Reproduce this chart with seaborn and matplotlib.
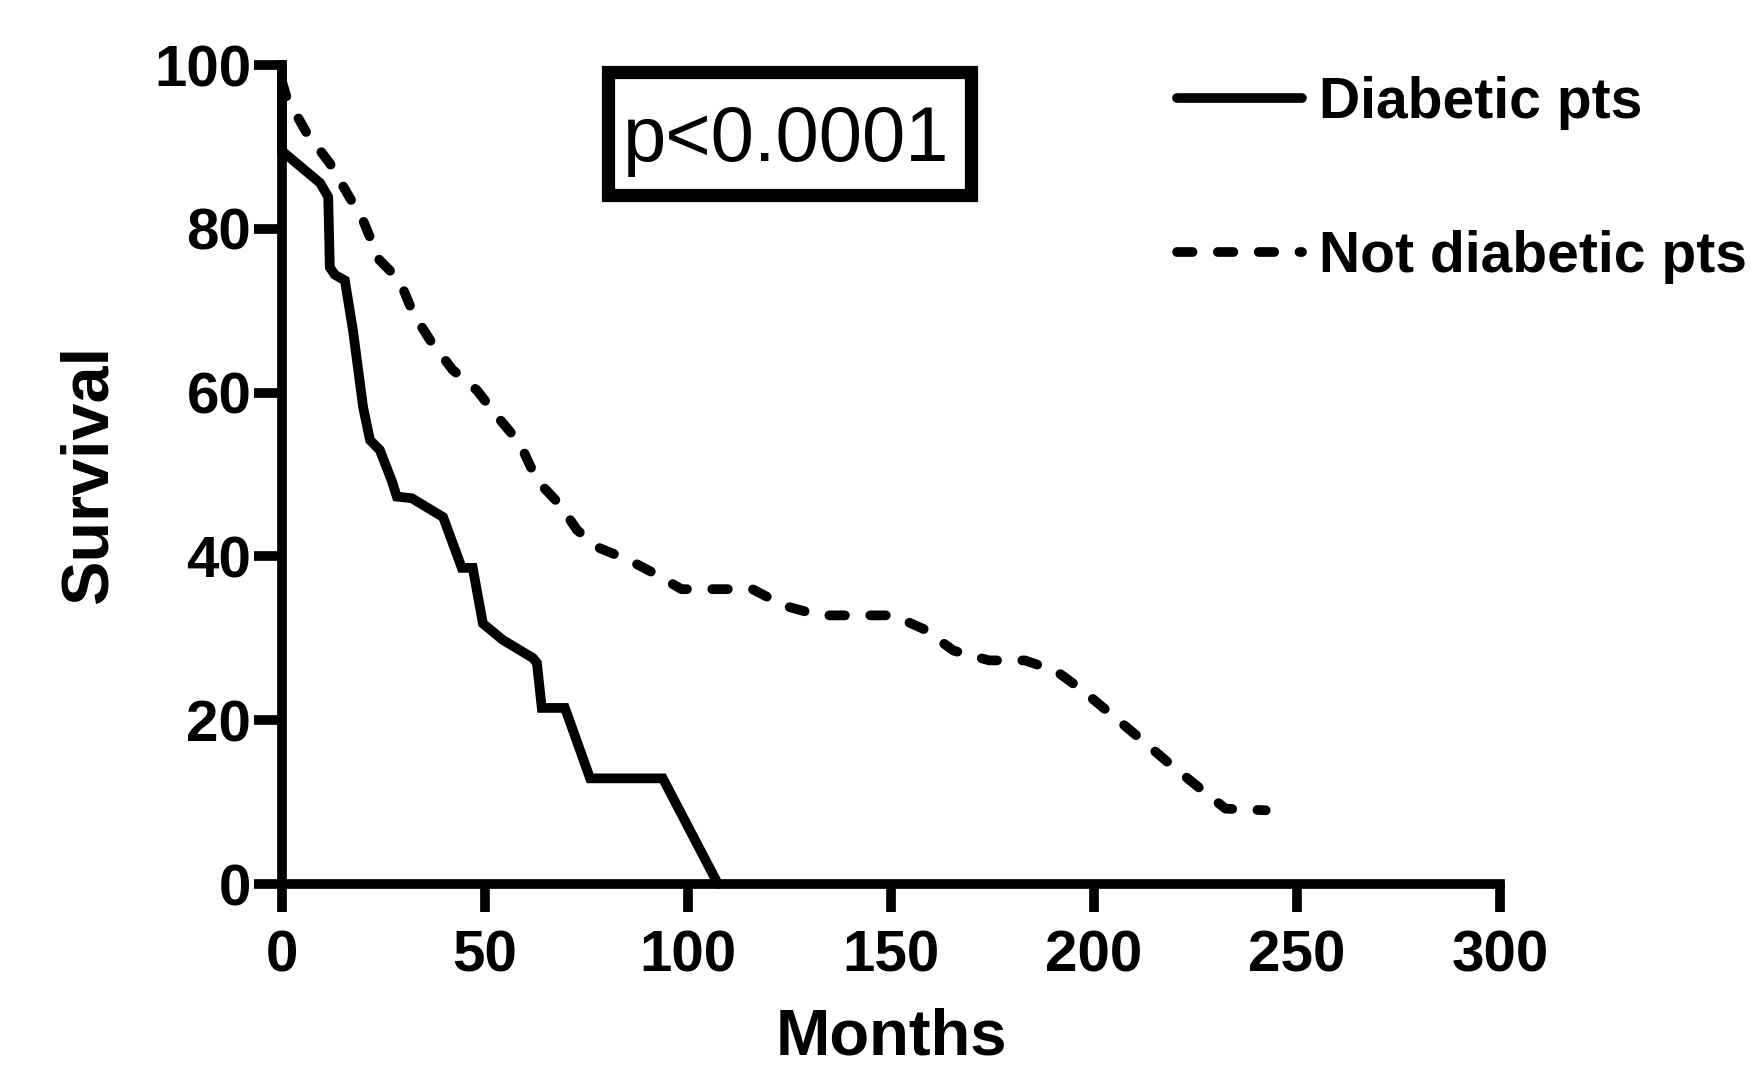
import matplotlib
matplotlib.use("Agg")
import matplotlib.pyplot as plt
from matplotlib.patches import Rectangle
import seaborn as sns
import pandas as pd

# Kaplan-Meier curves
months_dm = [0, 0, 9.4, 11.4, 11.8, 13, 15.5, 17.5, 20, 21.7, 24.1, 27, 28.3, 32, 39.7,
             44.3, 47, 49.5, 54.4, 61.8, 62.8, 64, 69.7, 75.9, 93.8, 107.4]
surv_dm = [100, 89.5, 85.6, 83.9, 75.3, 74.4, 73.7, 67.6, 58.2, 54.2, 53, 49.3, 47.3, 47.1, 44.8,
           38.6, 38.6, 31.8, 29.8, 27.6, 27, 21.5, 21.5, 12.9, 12.9, 0]

months_nd = [0, 1.2, 6.1, 11.8, 16, 20, 24, 29, 32.3, 36.5, 42, 48, 53.7, 58.6, 62.8, 68.5,
             72.7, 78.3, 85.7, 91.8, 98.4, 115.9, 123.6, 132.4, 150.5, 158.2, 165.4, 174.2,
             183, 190.7, 197.3, 205, 211.5, 218.1, 225.8, 232.4, 242.3]
surv_nd = [98, 96, 91.7, 88, 84.4, 81, 76.2, 73.7, 69.7, 66.4, 62.8, 60.3, 56.7, 53.8, 49.3, 46.3,
           43.2, 41, 39.5, 37.9, 36, 36, 34, 32.8, 32.8, 31.1, 28.5, 27.3,
           27.3, 26, 23.6, 20.4, 17.7, 14.9, 11.8, 9.2, 9.0]

labels = ["Diabetic pts", "Not diabetic pts"]
xticks = [0, 50, 100, 150, 200, 250, 300]
yticks = [0, 20, 40, 60, 80, 100]
p_text = "p<0.0001"

sns.set_style("ticks")
plt.rcParams['font.family'] = ['Liberation Sans', 'DejaVu Sans']
plt.rcParams['text.color'] = 'black'
plt.rcParams['axes.labelcolor'] = 'black'
plt.rcParams['axes.edgecolor'] = 'black'

df_dm = pd.DataFrame({'Months': months_dm, 'Survival': surv_dm})
df_nd = pd.DataFrame({'Months': months_nd, 'Survival': surv_nd})

fig = plt.figure(figsize=(17.62, 10.71), dpi=100)
ax = fig.add_axes([0.160, 0.1746, 0.6913, 0.7647])

sns.lineplot(data=df_dm, x='Months', y='Survival', ax=ax, sort=False, estimator=None,
             color='black', linewidth=7, label=labels[0])
sns.lineplot(data=df_nd, x='Months', y='Survival', ax=ax, sort=False, estimator=None,
             color='black', linewidth=7, label=labels[1])
ln = ax.get_lines()
ln[0].set_solid_joinstyle('miter')
ln[1].set_dashes((1.6, 2.6))
ln[1].set_dash_capstyle('round')
for l in ln:
    l.set_clip_on(False)

ax.set_xlim(0, 300)
ax.set_ylim(0, 100)
ax.set_xticks(xticks)
ax.set_yticks(yticks)
for side in ['top', 'right']:
    ax.spines[side].set_visible(False)
for side in ['left', 'bottom']:
    ax.spines[side].set_linewidth(7)
    ax.spines[side].set_capstyle('projecting')
ax.tick_params(axis='both', width=7, length=20, labelsize=42, color='black', labelcolor='black')
ax.tick_params(axis='x', pad=13)
ax.tick_params(axis='y', pad=2)
for t in ax.get_xticklabels() + ax.get_yticklabels():
    t.set_fontweight('bold')

ax.set_xlabel('Months', fontsize=47, fontweight='bold', labelpad=17)
ax.set_ylabel('Survival', fontsize=48, fontweight='bold', labelpad=24)

# p-value box
ax.add_patch(Rectangle((0.268, 0.841), 0.298, 0.151, transform=ax.transAxes,
                       fill=False, edgecolor='black', linewidth=9.5, clip_on=False))
ax.text(0.414, 0.883, p_text, transform=ax.transAxes, fontsize=56,
        ha='center', va='baseline')

leg = ax.legend(loc='upper left', bbox_to_anchor=(0.668, 0.929), bbox_transform=fig.transFigure,
                frameon=False, fontsize=41, handlelength=2.2, handletextpad=0.3,
                labelspacing=1.75, borderpad=0, borderaxespad=0)
for t in leg.get_texts():
    t.set_fontweight('bold')

fig.savefig('out.png', dpi=100, facecolor='white')
